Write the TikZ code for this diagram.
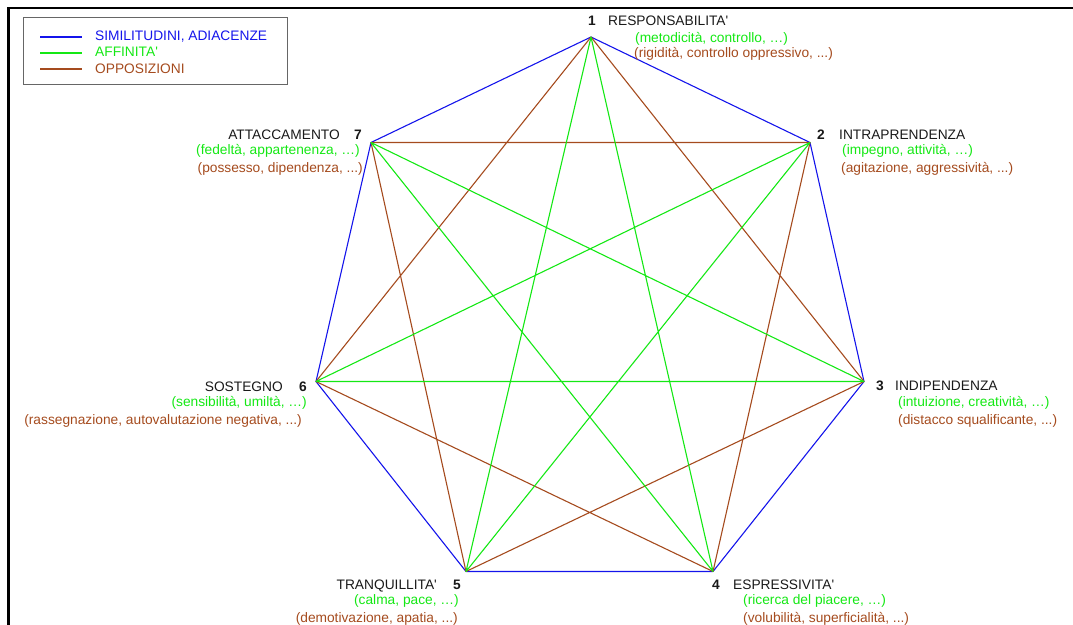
\documentclass[tikz,border=0pt]{standalone}
\usepackage{fontspec}
\newfontfamily\lab{Liberation Sans}
\definecolor{simblue}{RGB}{20,20,235}
\definecolor{affgreen}{RGB}{20,232,20}
\definecolor{oppbrown}{RGB}{165,75,30}
\begin{document}
\begin{tikzpicture}[x=1bp,y=-1bp,
  txt/.style={inner sep=0pt, font=\lab\fontsize{13.75bp}{16bp}\selectfont},
  title/.style={txt, text=black!90},
  num/.style={txt, text=black!90, font=\lab\fontsize{13.75bp}{16bp}\selectfont\bfseries},
  aff/.style={txt, text=affgreen},
  opp/.style={txt, text=oppbrown},
  adj/.style={draw=simblue, line width=1.1bp, line join=round},
  affl/.style={draw=affgreen, line width=1.1bp, line join=round},
  oppl/.style={draw=oppbrown, line width=1.1bp, line join=round},
  legline/.style={line width=1.8bp}]
\useasboundingbox (0,0) rectangle (1073,625);
% frame
\draw[line width=2.7bp] (8.5,625) -- (8.5,8) -- (1073,8);
% legend
\node[draw=black!60, line width=0.8bp, minimum width=264bp, minimum height=67bp, inner sep=0pt, anchor=north west] (legend) at (23,17) {};
\coordinate (la1) at (40,37); \coordinate (la2) at (82,37);
\coordinate (lb1) at (40,53); \coordinate (lb2) at (82,53);
\coordinate (lc1) at (40,69); \coordinate (lc2) at (82,69);
\draw[adj, legline] (la1) -- (la2);
\draw[affl, legline] (lb1) -- (lb2);
\draw[oppl, legline] (lc1) -- (lc2);
\node[txt, text=simblue, anchor=base west] (legA) at (95,41) {SIMILITUDINI, ADIACENZE};
\node[aff, anchor=base west] (legB) at (95,57) {AFFINITA'};
\node[opp, anchor=base west] (legC) at (95,74) {OPPOSIZIONI};
% vertices
\coordinate (v1) at (591,37);
\coordinate (v2) at (810,142.5);
\coordinate (v3) at (864,381.5);
\coordinate (v4) at (713,571.5);
\coordinate (v5) at (466,571.5);
\coordinate (v6) at (316,381.5);
\coordinate (v7) at (371,142.5);
% edges
\draw[adj] (v1)--(v2)--(v3)--(v4)--(v5)--(v6)--(v7)--cycle;
\draw[oppl] (v1)--(v3)--(v5)--(v7)--(v2)--(v4)--(v6)--cycle;
\draw[affl] (v1)--(v4)--(v7)--(v3)--(v6)--(v2)--(v5)--cycle;
% labels 1
\node[num, anchor=base west] (n1) at (588,26) {1};
\node[title, anchor=base west] (t1) at (608,26) {RESPONSABILITA'};
\node[aff, anchor=base west] (a1) at (635,43) {(metodicità, controllo, …)};
\node[opp, anchor=base west] (o1) at (634,58) {(rigidità, controllo oppressivo, ...)};
% labels 2
\node[num, anchor=base west] (n2) at (817,140) {2};
\node[title, anchor=base west] (t2) at (839,140) {INTRAPRENDENZA};
\node[aff, anchor=base west] (a2) at (842,155) {(impegno, attività, …)};
\node[opp, anchor=base west] (o2) at (841,173) {(agitazione, aggressività, ...)};
% labels 3
\node[num, anchor=base west] (n3) at (876,390) {3};
\node[title, anchor=base west] (t3) at (895,390) {INDIPENDENZA};
\node[aff, anchor=base west] (a3) at (898,406) {(intuizione, creatività, …)};
\node[opp, anchor=base west] (o3) at (898,424) {(distacco squalificante, ...)};
% labels 4
\node[num, anchor=base west] (n4) at (712,589) {4};
\node[title, anchor=base west] (t4) at (733,589) {ESPRESSIVITA'};
\node[aff, anchor=base west] (a4) at (743,604) {(ricerca del piacere, …)};
\node[opp, anchor=base west] (o4) at (743,622) {(volubilità, superficialità, ...)};
% labels 5
\node[title, anchor=base east] (t5) at (437,589) {TRANQUILLITA'};
\node[num, anchor=base east] (n5) at (461,589) {5};
\node[aff, anchor=base east] (a5) at (459,604) {(calma, pace, …)};
\node[opp, anchor=base east] (o5) at (458,622) {(demotivazione, apatia, ...)};
% labels 6
\node[title, anchor=base east] (t6) at (283,391) {SOSTEGNO};
\node[num, anchor=base east] (n6) at (307,391) {6};
\node[aff, anchor=base east] (a6) at (307,406) {(sensibilità, umiltà, …)};
\node[opp, anchor=base east] (o6) at (302,424) {(rassegnazione, autovalutazione negativa, ...)};
% labels 7
\node[title, anchor=base east] (t7) at (340,140) {ATTACCAMENTO};
\node[num, anchor=base east] (n7) at (362,140) {7};
\node[aff, anchor=base east] (a7) at (360,155) {(fedeltà, appartenenza, …)};
\node[opp, anchor=base east] (o7) at (363,173) {(possesso, dipendenza, ...)};
\end{tikzpicture}
\end{document}
